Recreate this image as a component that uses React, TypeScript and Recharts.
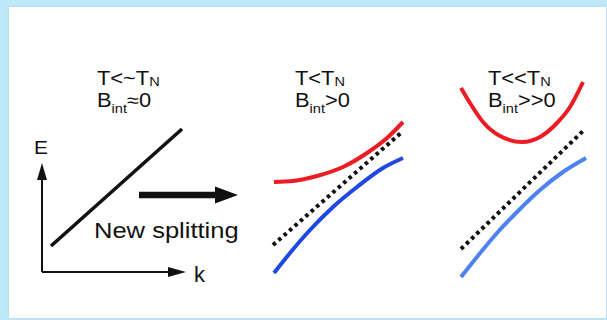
import React from 'react';
import { LineChart, Line, XAxis, YAxis } from 'recharts';

// panel 1: bare band (k, E in arbitrary units)
const eAxis = [{ k: 0, E: 0 }, { k: 0, E: 9.2 }];
const kAxis = [{ k: 0, E: 0 }, { k: 12.6, E: 0 }];
const bareBand = [{ k: 0.9, E: 2.6 }, { k: 14.0, E: 14.3 }];
const splitArrow = [{ k: 9.7, E: 7.7 }, { k: 17.3, E: 7.7 }];

// panel 2: T < TN, small gap
const upperMid = [
    { k: 0.9, E: 10.8 }, { k: 2.8, E: 10.9 }, { k: 5.2, E: 11.4 }, { k: 7.8, E: 12.3 },
    { k: 10.2, E: 13.7 }, { k: 12.2, E: 15.2 }, { k: 13.8, E: 16.8 },
];
const bareMid = [{ k: 0.8, E: 4.5 }, { k: 13.7, E: 15.8 }];
const lowerMid = [
    { k: 0.9, E: 1.7 }, { k: 2.5, E: 3.7 }, { k: 4.5, E: 6.0 }, { k: 6.8, E: 8.3 },
    { k: 9.2, E: 10.3 }, { k: 11.8, E: 12.2 }, { k: 13.8, E: 13.2 },
];

// panel 3: T << TN, large gap
const upperLow = [
    { k: 1.1, E: 20.2 }, { k: 2.0, E: 18.7 }, { k: 3.3, E: 16.8 }, { k: 5.0, E: 15.4 },
    { k: 7.2, E: 14.8 }, { k: 9.0, E: 15.3 }, { k: 10.7, E: 16.7 }, { k: 12.0, E: 18.3 },
    { k: 13.3, E: 20.8 },
];
const bareLow = [{ k: 1.1, E: 4.1 }, { k: 13.3, E: 15.9 }];
const lowerLow = [
    { k: 1.1, E: 1.3 }, { k: 2.7, E: 3.3 }, { k: 4.7, E: 5.7 }, { k: 6.7, E: 7.8 },
    { k: 9.0, E: 10.0 }, { k: 11.3, E: 11.8 }, { k: 13.6, E: 13.2 },
];

const FONT = '"Liberation Sans", Arial, Helvetica, sans-serif';
const INK = '#111';

const arrowDot = (dir: 'up' | 'right', len: number, half: number) => (p: any) => {
    const { cx, cy, index } = p;
    if (index !== 1) return <g key={`n${index}`} />;
    const pts =
        dir === 'up'
            ? `${cx - half},${cy} ${cx + half},${cy} ${cx},${cy - len}`
            : `${cx},${cy - half} ${cx},${cy + half} ${cx + len},${cy}`;
    return <polygon key="head" points={pts} fill={INK} />;
};

function Txt({ left, top, size, scale = 1.12, children }: any) {
    return (
        <div
            style={{
                position: 'absolute',
                left,
                top,
                fontSize: size,
                lineHeight: `${size}px`,
                fontFamily: FONT,
                color: INK,
                whiteSpace: 'nowrap',
                transform: `scaleX(${scale})`,
                transformOrigin: 'left top',
            }}
        >
            {children}
        </div>
    );
}

const Sub = ({ children, drop }: any) => (
    <span style={{ fontSize: 13, position: 'relative', top: drop }}>{children}</span>
);

const pos = (left: number, top: number): React.CSSProperties => ({ position: 'absolute', left, top });

export default function App() {
    return (
        <div style={{ position: 'absolute', left: 0, top: 0, width: 607, height: 320, background: '#bfe8f7', overflow: 'hidden' }}>
            <div style={{ position: 'absolute', left: 9, top: 7, width: 597, height: 311, background: '#fff', boxShadow: '0 0 2px rgba(150,190,210,0.6)' }} />

            <div style={pos(32, 112)}>
                <LineChart width={210} height={170} margin={{ top: 0, right: 0, bottom: 0, left: 0 }}>
                    <XAxis type="number" dataKey="k" domain={[-1, 20]} hide />
                    <YAxis type="number" dataKey="E" domain={[-1, 16]} hide />
                    <Line data={eAxis} dataKey="E" type="linear" stroke={INK} strokeWidth={2} dot={arrowDot('up', 17, 5)} isAnimationActive={false} />
                    <Line data={kAxis} dataKey="E" type="linear" stroke={INK} strokeWidth={2} dot={arrowDot('right', 18, 5)} isAnimationActive={false} />
                    <Line data={bareBand} dataKey="E" type="linear" stroke={INK} strokeWidth={3.6} dot={false} isAnimationActive={false} />
                    <Line data={splitArrow} dataKey="E" type="linear" stroke={INK} strokeWidth={6.5} dot={arrowDot('right', 23, 8.5)} isAnimationActive={false} />
                </LineChart>
            </div>

            <div style={pos(265, 70)}>
                <LineChart width={150} height={220} margin={{ top: 0, right: 0, bottom: 0, left: 0 }}>
                    <XAxis type="number" dataKey="k" domain={[0, 15]} hide />
                    <YAxis type="number" dataKey="E" domain={[0, 22]} hide />
                    <Line data={upperMid} dataKey="E" type="monotone" stroke="#ec1c24" strokeWidth={4} dot={false} isAnimationActive={false} />
                    <Line data={bareMid} dataKey="E" type="linear" stroke={INK} strokeWidth={4} strokeDasharray="3.6 3.6" dot={false} isAnimationActive={false} />
                    <Line data={lowerMid} dataKey="E" type="monotone" stroke="#1f47e3" strokeWidth={4} dot={false} isAnimationActive={false} />
                </LineChart>
            </div>

            <div style={pos(450, 70)}>
                <LineChart width={150} height={220} margin={{ top: 0, right: 0, bottom: 0, left: 0 }}>
                    <XAxis type="number" dataKey="k" domain={[0, 15]} hide />
                    <YAxis type="number" dataKey="E" domain={[0, 22]} hide />
                    <Line data={upperLow} dataKey="E" type="monotone" stroke="#ec1c24" strokeWidth={4} dot={false} isAnimationActive={false} />
                    <Line data={bareLow} dataKey="E" type="linear" stroke={INK} strokeWidth={4} strokeDasharray="3.6 3.6" dot={false} isAnimationActive={false} />
                    <Line data={lowerLow} dataKey="E" type="monotone" stroke="#4d82f0" strokeWidth={4} dot={false} isAnimationActive={false} />
                </LineChart>
            </div>

            <Txt left={97} top={68.5} size={19.5}>T&lt;~T<Sub drop={1.5}>N</Sub></Txt>
            <Txt left={97} top={90.8} size={19.5}>B<Sub drop={6}>int</Sub>≈0</Txt>
            <Txt left={295} top={68.5} size={19.5}>T&lt;T<Sub drop={1.5}>N</Sub></Txt>
            <Txt left={295} top={90.8} size={19.5}>B<Sub drop={6}>int</Sub>&gt;0</Txt>
            <Txt left={488} top={68.5} size={19.5}>T&lt;&lt;T<Sub drop={1.5}>N</Sub></Txt>
            <Txt left={488} top={90.8} size={19.5}>B<Sub drop={6}>int</Sub>&gt;&gt;0</Txt>

            <Txt left={34} top={138} size={19} scale={1.1}>E</Txt>
            <Txt left={194} top={264} size={22} scale={1}>k</Txt>
            <Txt left={94} top={219.5} size={22} scale={1.16}>New splitting</Txt>
        </div>
    );
}
